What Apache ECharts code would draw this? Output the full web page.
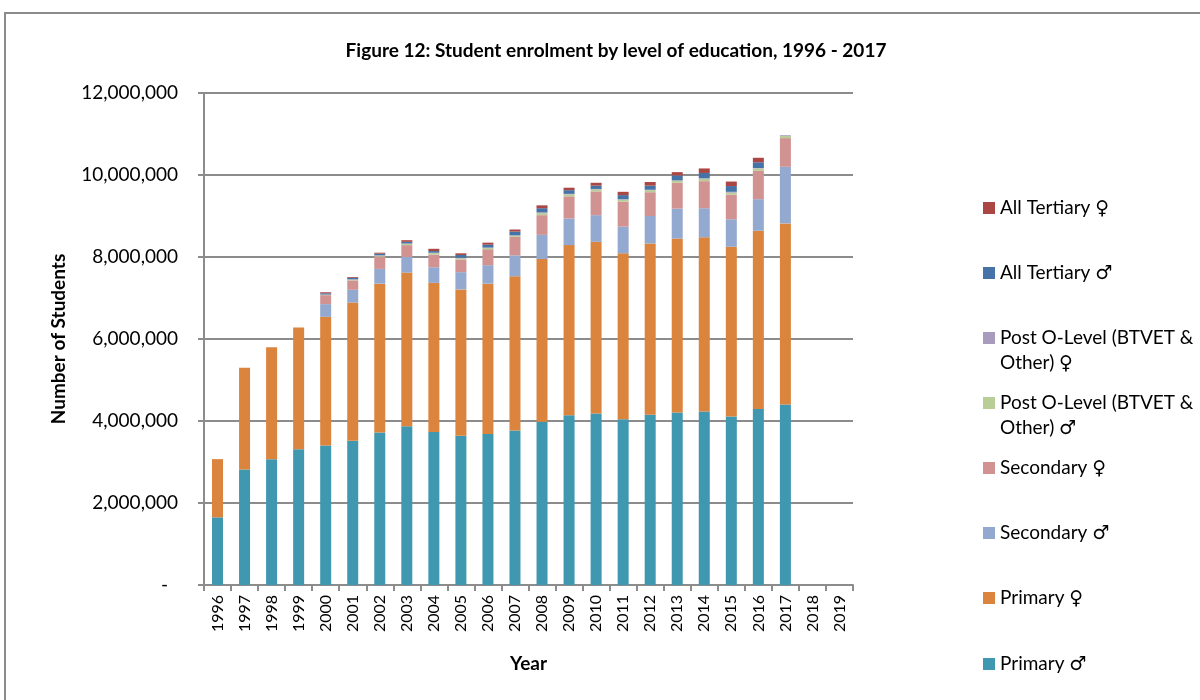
<!DOCTYPE html>
<html>
<head>
<meta charset="utf-8">
<script src="https://cdn.jsdelivr.net/npm/echarts@6/dist/echarts.min.js"></script>
<style>
  html, body { margin: 0; padding: 0; background: #fff; }
  #chart { width: 1200px; height: 700px; }
</style>
</head>
<body>
<div id="chart"></div>
<script>
// Student enrolment by level of education (number of students), 1996 - 2019
const years = ['1996','1997','1998','1999','2000','2001','2002','2003','2004','2005','2006','2007',
               '2008','2009','2010','2011','2012','2013','2014','2015','2016','2017','2018','2019'];

const primaryMale = [1650000, 2820000, 3070000, 3310000, 3400000, 3520000, 3720000, 3870000, 3730000, 3640000, 3680000, 3770000,
                     3980000, 4140000, 4180000, 4040000, 4150000, 4210000, 4230000, 4110000, 4290000, 4400000, null, null];
const primaryFemale = [1420000, 2480000, 2730000, 2970000, 3140000, 3370000, 3630000, 3750000, 3640000, 3570000, 3670000, 3760000,
                       3970000, 4150000, 4190000, 4050000, 4180000, 4240000, 4250000, 4140000, 4350000, 4420000, null, null];
const secondaryMale = [null, null, null, null, 310000, 310000, 360000, 380000, 380000, 420000, 450000, 510000,
                       590000, 650000, 650000, 650000, 670000, 730000, 710000, 670000, 770000, 1380000, null, null];
const secondaryFemale = [null, null, null, null, 220000, 230000, 300000, 290000, 310000, 310000, 390000, 450000,
                         480000, 540000, 580000, 610000, 580000, 630000, 660000, 600000, 690000, 700000, null, null];
const postOLevelMale = [null, null, null, null, 10000, 20000, 25000, 30000, 35000, 30000, 30000, 30000,
                        50000, 50000, 50000, 50000, 50000, 50000, 60000, 50000, 60000, 50000, null, null];
const postOLevelFemale = [null, null, null, null, 5000, 5000, 5000, 10000, 10000, 10000, 10000, 10000,
                          20000, 10000, 10000, 10000, 10000, 10000, 10000, 20000, 10000, 20000, null, null];
const tertiaryMale = [null, null, null, null, 30000, 35000, 40000, 40000, 40000, 70000, 70000, 90000,
                      100000, 90000, 80000, 100000, 100000, 120000, 130000, 140000, 140000, null, null, null];
const tertiaryFemale = [null, null, null, null, 25000, 20000, 25000, 40000, 55000, 40000, 50000, 50000,
                        70000, 60000, 70000, 80000, 90000, 80000, 110000, 110000, 110000, null, null, null];

const yTicks = { min: 0, max: 12000000, interval: 2000000 };

const FONT = 'Lato, "DejaVu Sans", sans-serif';
const GRID_COLOR = '#8c8c8c';

// stacking order, bottom to top
const seriesDefs = [
  { name: 'Primary \u2642', data: primaryMale, color: '#3f97b0' },
  { name: 'Primary \u2640', data: primaryFemale, color: '#db843d' },
  { name: 'Secondary \u2642', data: secondaryMale, color: '#93a9cf' },
  { name: 'Secondary \u2640', data: secondaryFemale, color: '#d19392' },
  { name: 'Post O-Level (BTVET & Other) \u2642', data: postOLevelMale, color: '#b9cd96' },
  { name: 'Post O-Level (BTVET & Other) \u2640', data: postOLevelFemale, color: '#a99bbd' },
  { name: 'All Tertiary \u2642', data: tertiaryMale, color: '#4572a7' },
  { name: 'All Tertiary \u2640', data: tertiaryFemale, color: '#aa4643' }
];

// legend entries, top to bottom, with the y centre of each swatch
const legendRows = [
  { name: 'All Tertiary \u2640', y: 208 },
  { name: 'All Tertiary \u2642', y: 273 },
  { name: 'Post O-Level (BTVET & Other) \u2640', y: 338, wrap: true },
  { name: 'Post O-Level (BTVET & Other) \u2642', y: 403, wrap: true },
  { name: 'Secondary \u2640', y: 468 },
  { name: 'Secondary \u2642', y: 533 },
  { name: 'Primary \u2640', y: 598 },
  { name: 'Primary \u2642', y: 664 }
];
const LINE_H = 25;

const legends = legendRows.map(r => ({
  show: true,
  orient: 'vertical',
  left: 983,
  top: r.wrap ? r.y - LINE_H * 1.5 : r.y - LINE_H / 2,
  padding: 0,
  icon: 'rect',
  itemWidth: 12,
  itemHeight: 12,
  selectedMode: false,
  data: [r.name],
  formatter: n => r.wrap ? '\n' + n.replace('& ', '&\n') : n,
  textStyle: { fontFamily: FONT, fontSize: 19, color: '#000', lineHeight: LINE_H }
}));

const chart = echarts.init(document.getElementById('chart'), null, { renderer: 'canvas' });

chart.setOption({
  backgroundColor: '#fff',
  animation: false,
  title: {
    text: 'Figure 12: Student enrolment by level of education, 1996 - 2017',
    left: 611,
    top: 36,
    textAlign: 'center',
    textStyle: { fontFamily: FONT, fontSize: 19, fontWeight: 'bold', color: '#000' }
  },
  legend: legends,
  grid: { left: 204, right: 347, top: 93, bottom: 115, containLabel: false },
  xAxis: {
    type: 'category',
    data: years,
    name: 'Year',
    nameLocation: 'middle',
    nameGap: 69,
    nameTextStyle: { fontFamily: FONT, fontSize: 19, fontWeight: 'bold', color: '#000' },
    axisLine: { lineStyle: { color: GRID_COLOR, width: 2 } },
    axisTick: { show: true, alignWithLabel: false, length: 6, lineStyle: { color: GRID_COLOR, width: 2 } },
    axisLabel: { rotate: 90, margin: 10, fontFamily: FONT, fontSize: 16, color: '#000' }
  },
  yAxis: {
    type: 'value',
    min: yTicks.min,
    max: yTicks.max,
    interval: yTicks.interval,
    name: 'Number of Students',
    nameLocation: 'middle',
    nameGap: 136,
    nameRotate: 90,
    nameTextStyle: { fontFamily: FONT, fontSize: 19, fontWeight: 'bold', color: '#000' },
    axisLine: { show: true, lineStyle: { color: GRID_COLOR, width: 2 } },
    axisTick: { show: true, length: 6, lineStyle: { color: GRID_COLOR, width: 2 } },
    splitLine: { show: true, lineStyle: { color: GRID_COLOR, width: 2 } },
    axisLabel: {
      margin: 26,
      fontFamily: FONT,
      fontSize: 19,
      color: '#000',
      formatter: v => v === 0 ? '{z|-}' : v.toLocaleString('en-US'),
      rich: { z: { fontFamily: FONT, fontSize: 19, color: '#000', padding: [0, 10, 0, 0] } }
    }
  },
  series: seriesDefs.map(s => ({
    name: s.name,
    type: 'bar',
    stack: 'enrolment',
    barWidth: 11,
    data: s.data,
    itemStyle: { color: s.color },
    emphasis: { disabled: true }
  })),
  graphic: [{
    type: 'rect',
    shape: { x: 5, y: 13, width: 1300, height: 800 },
    style: { fill: null, stroke: GRID_COLOR, lineWidth: 2 },
    silent: true,
    z: -1
  }]
});
</script>
</body>
</html>
